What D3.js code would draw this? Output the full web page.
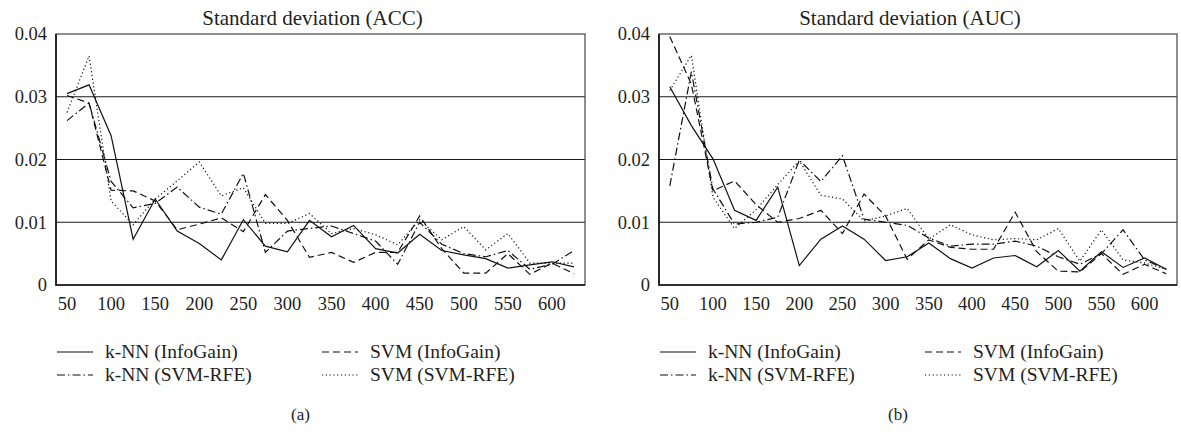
<!DOCTYPE html>
<html>
<head>
<meta charset="utf-8">
<script src="https://cdn.jsdelivr.net/npm/d3@7"></script>
<style>
  body { margin: 0; background: #fff; }
  .axis path { display: none; }
  .axis line { display: none; }
</style>
</head>
<body>
<div id="chart"></div>
<script>
// number of features, 50..625 step 25
const features = [50,75,100,125,150,175,200,225,250,275,300,325,350,375,400,425,450,475,500,525,550,575,600,625];
const xLabels = [50,100,150,200,250,300,350,400,450,500,550,600];
const yTicks = [0, 0.01, 0.02, 0.03, 0.04];

// (a) Standard deviation (ACC)
const accKnnIG  = [0.0305,0.0319,0.0238,0.0073,0.0137,0.0086,0.0066,0.0040,0.0104,0.0062,0.0053,0.0103,0.0077,0.0095,0.0058,0.0051,0.0081,0.0055,0.0048,0.0042,0.0027,0.0032,0.0037,0.0029];
const accSvmIG  = [0.0302,0.0290,0.0151,0.0150,0.0134,0.0088,0.0097,0.0107,0.0085,0.0144,0.0103,0.0044,0.0052,0.0036,0.0052,0.0052,0.0110,0.0058,0.0019,0.0019,0.0050,0.0017,0.0035,0.0018];
const accKnnRFE = [0.0262,0.0290,0.0165,0.0123,0.0130,0.0156,0.0124,0.0113,0.0178,0.0052,0.0086,0.0090,0.0094,0.0082,0.0070,0.0033,0.0100,0.0065,0.0050,0.0045,0.0055,0.0025,0.0033,0.0055];
const accSvmRFE = [0.0275,0.0365,0.0134,0.0096,0.0137,0.0166,0.0196,0.0142,0.0155,0.0098,0.0098,0.0114,0.0082,0.0090,0.0080,0.0064,0.0104,0.0072,0.0093,0.0056,0.0082,0.0035,0.0035,0.0035];

// (b) Standard deviation (AUC)
const aucKnnIG  = [0.0316,0.0254,0.0201,0.0119,0.0103,0.0156,0.0031,0.0073,0.0094,0.0073,0.0039,0.0045,0.0067,0.0042,0.0027,0.0043,0.0047,0.0029,0.0055,0.0022,0.0053,0.0028,0.0043,0.0025];
const aucSvmIG  = [0.0396,0.0320,0.0150,0.0166,0.0128,0.0100,0.0106,0.0119,0.0082,0.0145,0.0110,0.0041,0.0072,0.0060,0.0057,0.0057,0.0116,0.0053,0.0022,0.0021,0.0050,0.0017,0.0033,0.0018];
const aucKnnRFE = [0.0158,0.0340,0.0153,0.0097,0.0100,0.0108,0.0199,0.0165,0.0206,0.0105,0.0100,0.0095,0.0075,0.0062,0.0065,0.0065,0.0070,0.0062,0.0045,0.0033,0.0050,0.0088,0.0040,0.0025];
const aucSvmRFE = [0.0310,0.0366,0.0140,0.0090,0.0120,0.0160,0.0198,0.0143,0.0137,0.0102,0.0110,0.0122,0.0073,0.0096,0.0080,0.0072,0.0074,0.0072,0.0090,0.0038,0.0088,0.0040,0.0035,0.0025];

const seriesNames = ["k-NN (InfoGain)", "SVM (InfoGain)", "k-NN (SVM-RFE)", "SVM (SVM-RFE)"];
const dashes = [null, "7,4", "8,3,1.5,3", "1.2,2.6"];
const serif = "'Liberation Serif', 'Times New Roman', 'DejaVu Serif', serif";
const ink = "#231f20";

const svg = d3.select("#chart").append("svg")
  .attr("width", 1181)
  .attr("height", 440)
  .attr("font-family", serif);

const drawPanel = (opts) => {
  const g = svg.append("g");
  const x = d3.scaleBand().domain(features).range([opts.left, opts.right]).padding(0);
  const y = d3.scaleLinear().domain([0, 0.04]).range([285, 34]);
  const cx = d => x(d) + x.bandwidth() / 2;

  // grid lines
  g.selectAll(".grid")
    .data(yTicks.slice(1, 4))
    .enter()
    .append("line")
    .attr("x1", opts.left).attr("x2", opts.right)
    .attr("y1", d => y(d)).attr("y2", d => y(d))
    .attr("stroke", "#1a1a1a")
    .attr("stroke-width", 1.1);

  // frame
  g.append("rect")
    .attr("x", opts.left).attr("y", y(0.04))
    .attr("width", opts.right - opts.left)
    .attr("height", y(0) - y(0.04))
    .attr("fill", "none")
    .attr("stroke", "#444")
    .attr("stroke-width", 1.2);
  g.append("path")
    .attr("d", d3.line()([[opts.left, y(0.04)], [opts.left, y(0)], [opts.right, y(0)]]))
    .attr("fill", "none")
    .attr("stroke", "#111")
    .attr("stroke-width", 1.6);

  const line = d3.line()
    .x((d, i) => cx(features[i]))
    .y(d => y(d));

  opts.series.forEach((s, i) => {
    g.append("path")
      .datum(s)
      .attr("d", line)
      .attr("fill", "none")
      .attr("stroke", "#111")
      .attr("stroke-width", 1.2)
      .attr("stroke-dasharray", dashes[i]);
  });

  // axes
  const xa = g.append("g")
    .attr("class", "axis")
    .attr("transform", "translate(0," + y(0) + ")")
    .call(d3.axisBottom(x).tickValues(xLabels).tickSize(0).tickPadding(12));
  xa.attr("font-family", serif);
  xa.selectAll("text").attr("font-size", 18.5).attr("fill", ink);

  const ya = g.append("g")
    .attr("class", "axis")
    .attr("transform", "translate(" + opts.left + ",0)")
    .call(d3.axisLeft(y).tickValues(yTicks).tickSize(0).tickPadding(9)
      .tickFormat(d => d === 0 ? "0" : d3.format(".2f")(d)));
  ya.attr("font-family", serif);
  ya.selectAll("text").attr("font-size", 18.5).attr("fill", ink);

  // title
  g.append("text")
    .text(opts.title)
    .attr("x", (opts.left + opts.right) / 2 - 8)
    .attr("y", 25)
    .attr("text-anchor", "middle")
    .attr("font-size", 21)
    .attr("fill", ink);

  // legend
  const cols = [opts.left + 1, opts.left + 266];
  const rows = [352, 375];
  seriesNames.forEach((name, i) => {
    const lx = cols[i % 2];
    const ly = rows[Math.floor(i / 2)];
    g.append("path")
      .attr("d", d3.line()([[lx, ly], [lx + 36, ly]]))
      .attr("stroke", "#111")
      .attr("stroke-width", 1.2)
      .attr("stroke-dasharray", dashes[i]);
    g.append("text")
      .text(name)
      .attr("x", lx + 48)
      .attr("y", ly + 6)
      .attr("font-size", 19.5)
      .attr("fill", ink);
  });

  g.append("text")
    .text(opts.tag)
    .attr("x", (opts.left + opts.right) / 2 - 20)
    .attr("y", 420)
    .attr("text-anchor", "middle")
    .attr("font-size", 17)
    .attr("fill", ink);
};

drawPanel({ left: 56, right: 585, title: "Standard deviation (ACC)", tag: "(a)",
  series: [accKnnIG, accSvmIG, accKnnRFE, accSvmRFE] });
drawPanel({ left: 659, right: 1177, title: "Standard deviation (AUC)", tag: "(b)",
  series: [aucKnnIG, aucSvmIG, aucKnnRFE, aucSvmRFE] });
</script>
</body>
</html>
